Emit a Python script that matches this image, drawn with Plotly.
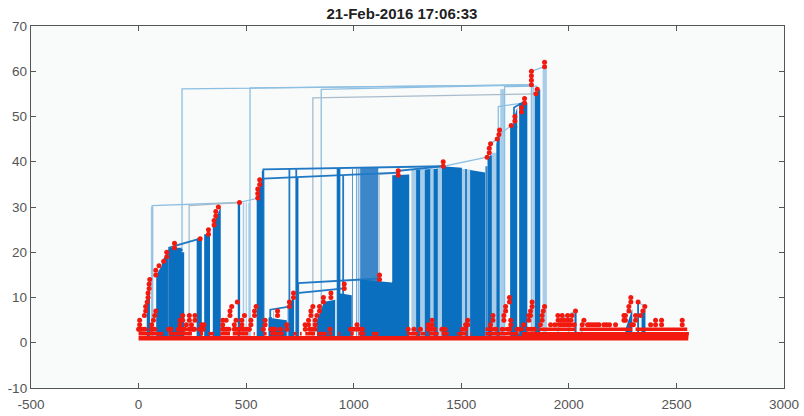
import plotly.graph_objects as go

title_text = "21-Feb-2016 17:06:33"
x_ticks = [-500, 0, 500, 1000, 1500, 2000, 2500, 3000]
x_labels = ["-500", "0", "500", "1000", "1500", "2000", "2500", "3000"]
y_ticks = [-10, 0, 10, 20, 30, 40, 50, 60, 70]
y_labels = ["-10", "0", "10", "20", "30", "40", "50", "60", "70"]

# dark blue merged stems: start, end, height at start, height at end
dark_x0 = [38, 82, 108, 142, 200, 270, 305, 345, 461, 549, 604, 697, 733, 858, 927, 1030, 1179, 1290, 1330, 1371,
           1410, 1518, 1541, 1622, 1663, 1727, 1747, 1769, 1841, 2263, 2318, 2338, 2026, 1520, 1440, 1760, 1980,
           573, 925, 829]
dark_x1 = [53, 108, 135, 200, 212, 294, 332, 382, 472, 573, 689, 723, 741, 914, 991, 1253, 1258, 1309, 1356, 1391,
           1503, 1526, 1611, 1642, 1678, 1747, 1760, 1807, 1867, 2295, 2326, 2356, 2036, 1532, 1500, 1770, 1985,
           580, 935, 858]
dark_y0 = [10, 15, 18, 21, 20, 23, 24, 26, 31, 32, 5.5, 8, 36.4, 9, 11, 14, 37, 38.2, 38.3, 38.4,
           39, 38.4, 38.2, 41, 44, 48, 50, 53, 55, 3, 9, 7, 7, 3, 1, 2, 1,
           38, 38.4, 5]
dark_y1 = [14, 17, 20, 21, 20, 23, 24, 30, 31, 36, 5, 10.5, 36.4, 9.5, 10.5, 13, 37.2, 38.3, 38.4, 38.5,
           38.7, 38.4, 37.6, 41.5, 47, 48, 52, 53, 56, 7.5, 9, 7.5, 7, 4, 1, 2, 1,
           38, 38.4, 8.5]

# paler stems
light_x0 = [57, 484, 498, 510, 1268, 1309, 1356, 1391, 1503, 1526, 1642, 1681, 1830, 1878, 625, 690]
light_x1 = [69, 491, 503, 516, 1290, 1330, 1371, 1410, 1518, 1541, 1663, 1704, 1838, 1898, 630, 695]
light_top = [30, 31, 31, 31, 38.3, 38.4, 38.5, 38.6, 38.4, 38.3, 42, 56, 57, 61, 7, 8]

medium_x0 = [992, 1003, 1012, 1022, 1030, 1612]
medium_x1 = [996, 1006, 1016, 1026, 1114, 1622]
medium_top = [38.4, 38.4, 38.5, 38.5, 38.7, 39]

# connector paths: rise at x0 up to y0, then across to x1, y1
pale_x0 = [202, 518, 849, 63, 1701, 1672, 468, 1416, 1636, 1678, 1826, 1749, 1950, 2000, 2322, 2060]
pale_y0 = [56.1, 56.3, 56, 30.3, 56.6, 52.2, 31, 39, 44, 46, 60, 49, 5, 6, 9, 4.5]
pale_x1 = [1826, 1826, 1826, 469, 1853, 1794, 558, 1620, 1667, 1732, 1887, 1760, 2031, 2031, 2353, 2080]
pale_y1 = [57, 57, 57, 31, 56.7, 53, 32, 41, 45, 48, 61, 47.5, 7, 7, 8, 4]

grey_x0 = [810, 235, 1118, 165]
grey_y0 = [54.1, 30.3, 37.2, 21.5]
grey_x1 = [1847, 469, 1207, 286]
grey_y1 = [55, 31, 37.5, 23]

strong_x0 = [580, 580, 701, 733, 739, 925, 934, 951, 742, 737, 612, 610, 135, 142, 1207, 1745]
strong_y0 = [38.3, 36.3, 38.3, 38.3, 36.4, 38.4, 38.4, 36.9, 13.2, 11, 7.3, 5.5, 20.3, 21, 38, 52]
strong_x1 = [1416, 1207, 702, 734, 740, 926, 935, 952, 1120, 956, 701, 620, 205, 286, 1416, 1790]
strong_y1 = [39, 37.6, 38.3, 38.3, 36.4, 38.4, 38.4, 36.9, 14.2, 12, 8, 5.5, 20.5, 23, 39, 53.2]

# red points that stack up to the local peaks
peak_x = [5, 5, 5, 27, 33, 33, 40, 44, 44, 49, 49, 52, 61, 61, 69, 75, 80, 80, 80, 95, 117, 131, 131, 167, 167,
          286, 325, 325, 351, 351, 359, 359, 371, 469, 554, 554, 554, 563, 563,
          143, 193, 193, 205, 205, 236, 236, 222, 262, 262, 246, 304, 293, 391, 391, 407, 425, 425, 433, 459, 445, 453,
          480, 480, 492, 522, 522, 539, 539, 546, 588, 588, 646, 646, 689, 701, 701, 720, 720,
          774, 790, 790, 801, 801, 810, 821, 821, 829, 841, 841, 859, 859, 894, 894, 956, 956, 1015, 1015, 1120, 1120,
          1207, 1207, 1416, 1416, 1620, 1630, 1630, 1636, 1667, 1675, 1678, 1732, 1749, 1749, 1780, 1780, 1794, 1794,
          1826, 1826, 1826, 1826, 1847, 1853, 1887, 1887,
          1346, 1364, 1364, 1520, 1530, 1530,
          1647, 1647, 1636, 1698, 1698, 1706, 1706, 1724, 1724, 1730, 1730, 1790, 1814, 1814, 1822, 1822, 1829, 1829,
          1868, 1876, 1876, 1881, 1887, 1915,
          1949, 1969, 1994, 1950, 1965, 1980, 1995, 2010, 2031, 2015,
          2070, 2062, 2087, 2097, 2108, 2131, 2163, 2189, 2217,
          2256, 2256, 2263, 2263, 2279, 2279, 2288, 2288, 2322, 2353, 2344, 2333, 2310, 2310, 2380, 2403, 2403, 2431, 2431, 2527, 2527]
peak_y = [3, 4, 5, 6, 7, 8, 9, 10, 11, 12, 13, 14, 3, 4, 5, 6, 7, 15, 16, 17, 18, 19, 20, 21, 22,
          23, 24, 25, 26, 27, 28, 29, 30, 31, 32, 33, 34, 35, 36,
          3, 4, 5, 5, 6, 5, 6, 4, 5, 6, 4, 4, 4, 4, 5, 5, 6, 7, 8, 9, 4, 5,
          4, 5, 6, 4, 5, 6, 7, 8, 4, 5, 6, 7, 4, 8, 9, 10, 11,
          4, 4, 5, 6, 7, 8, 4, 5, 6, 7, 8, 9, 10, 11, 10, 12, 13, 3, 4, 14, 15,
          37, 38, 39, 40, 41, 42, 43, 44, 45, 46, 47, 48, 49, 50, 51, 52, 53, 54,
          57, 58, 59, 60, 55, 56, 61, 62,
          4, 4, 5, 4, 4, 5,
          5, 6, 4, 5, 6, 7, 8, 9, 10, 4, 5, 4, 5, 6, 6, 7, 8, 9,
          4, 5, 6, 7, 8, 4,
          6, 6, 6, 5, 5, 5, 5, 5, 7, 6,
          5, 4, 4, 4, 4, 4, 4, 4, 4,
          5, 6, 6, 5, 7, 8, 9, 10, 9, 8, 7, 6, 5, 6, 4, 4, 5, 4, 5, 4, 5]

# red points on level 3 and 4 that sit apart
row3_x = [0, 10, 20, 30, 60, 75, 140, 150, 185, 195, 205, 215, 235, 245, 255, 260, 285, 295, 300, 390, 400, 410, 420,
          445, 455, 465, 475, 485, 495, 505, 515, 580, 615, 625, 635, 660, 690, 775, 795, 805, 820, 890, 985, 1000, 1030,
          1040, 1253, 1280, 1310, 1345, 1360, 1375, 1410, 1425, 1505, 1520, 1640, 1660, 1690, 1716, 1725, 1760, 1770, 1810,
          1825, 1840]
row4_x = [2025, 1935, 1960, 1975, 1990, 2005, 2290, 2300, 2120, 2140, 2175]

# stretches where red points merge into a solid run: start, end, level
run_x0 = [0, 140, 285, 325, 380, 438, 535, 580, 612, 720, 750, 775, 830, 885, 930, 985, 1022, 1085, 1248, 1310, 1349,
          1408, 1481, 1543, 1612, 1783,
          1612, 1688, 1760, 1815, 1860, 2050, 2310, 1940]
run_x1 = [115, 248, 300, 350, 425, 510, 540, 595, 675, 735, 758, 820, 875, 900, 938, 1000, 1053, 1115, 1302, 1333, 1395,
          1442, 1527, 1546, 1767, 2558,
          1672, 1735, 1790, 1845, 2031, 2295, 2550, 2020]
run_level = [2, 2, 2, 2, 2, 2, 2, 2, 2, 2, 2, 2, 2, 2, 2, 2, 2, 2, 2, 2, 2,
             2, 2, 2, 2, 2,
             3, 3, 3, 3, 3, 3, 3, 4]
base_x = [0, 2555]
base_y = [1, 1]
base_top_x = [1780, 2555]
base_top_y = [1.5, 1.5]

DARK = "#0b6fc0"
MEDIUM = "#3b87c9"
LIGHT = "#a8cde9"
PALE = "#8cbfe2"
GREY = "#a9bccb"
STRONG = "#2079c4"
RED = "#f2190f"
FONT = "Liberation Sans, Arial, sans-serif"


def blocks(x0s, x1s, tops0, tops1):
    xs, ys = [], []
    for a, b, t0, t1 in zip(x0s, x1s, tops0, tops1):
        xs += [a, a, b, b, a, None]
        ys += [1, t0, t1, 1, 1, None]
    return xs, ys


def paths(x0s, y0s, x1s, y1s):
    xs, ys = [], []
    for a, p, b, q in zip(x0s, y0s, x1s, y1s):
        xs += [a, a, b, None]
        ys += [1, p, q, None]
    return xs, ys


fig = go.Figure()


def fill_trace(x, y, color):
    fig.add_trace(go.Scatter(x=x, y=y, mode="lines", fill="toself", fillcolor=color,
                             line=dict(color=color, width=0), hoverinfo="skip"))


def line_trace(x, y, color, width):
    fig.add_trace(go.Scatter(x=x, y=y, mode="lines", line=dict(color=color, width=width),
                             hoverinfo="skip"))


lx, ly = blocks(light_x0, light_x1, light_top, light_top)
fill_trace(lx, ly, LIGHT)
mx, my = blocks(medium_x0, medium_x1, medium_top, medium_top)
fill_trace(mx, my, MEDIUM)
px_, py_ = paths(pale_x0, pale_y0, pale_x1, pale_y1)
line_trace(px_, py_, PALE, 1.3)
gx, gy = paths(grey_x0, grey_y0, grey_x1, grey_y1)
line_trace(gx, gy, GREY, 1.3)
sx, sy = paths(strong_x0, strong_y0, strong_x1, strong_y1)
line_trace(sx, sy, STRONG, 1.8)
dx, dy = blocks(dark_x0, dark_x1, dark_y0, dark_y1)
fill_trace(dx, dy, DARK)

for a, b, level in zip(run_x0, run_x1, run_level):
    line_trace([a, b], [level, level], RED, 3.6)
line_trace(base_x, base_y, RED, 4.5)
line_trace(base_top_x, base_top_y, RED, 4)

fig.add_trace(go.Scatter(x=row3_x, y=[3] * len(row3_x), mode="markers",
                         marker=dict(color=RED, size=5), hoverinfo="skip"))
fig.add_trace(go.Scatter(x=row4_x, y=[4] * len(row4_x), mode="markers",
                         marker=dict(color=RED, size=5), hoverinfo="skip"))
fig.add_trace(go.Scatter(x=peak_x, y=peak_y, mode="markers",
                         marker=dict(color=RED, size=5), hoverinfo="skip"))

axis_style = dict(showgrid=False, zeroline=False, showline=True, linecolor="#555555", linewidth=1.3,
                  mirror="ticks", ticks="inside", ticklen=5, tickwidth=1, tickcolor="#555555",
                  automargin=False,
                  tickfont=dict(family=FONT, size=13.5, color="#555555"))

fig.update_layout(
    width=804, height=416, showlegend=False,
    paper_bgcolor="#ffffff", plot_bgcolor="#f9fafa",
    margin=dict(l=31, r=20, t=26, b=28),
    title=dict(text="<b>%s</b>" % title_text, x=0.5, xanchor="center", y=0.968, yanchor="middle",
               font=dict(family=FONT, size=15, color="#222222")),
    xaxis=dict(range=[-500, 3000], tickvals=x_ticks, ticktext=x_labels, ticklabelstandoff=4, **axis_style),
    yaxis=dict(range=[-10, 70], tickvals=y_ticks, ticktext=y_labels, **axis_style),
)

fig.write_html("out.html", post_script="document.body.style.margin='0';window.dispatchEvent(new Event('resize'));",
               config={"displayModeBar": False})
